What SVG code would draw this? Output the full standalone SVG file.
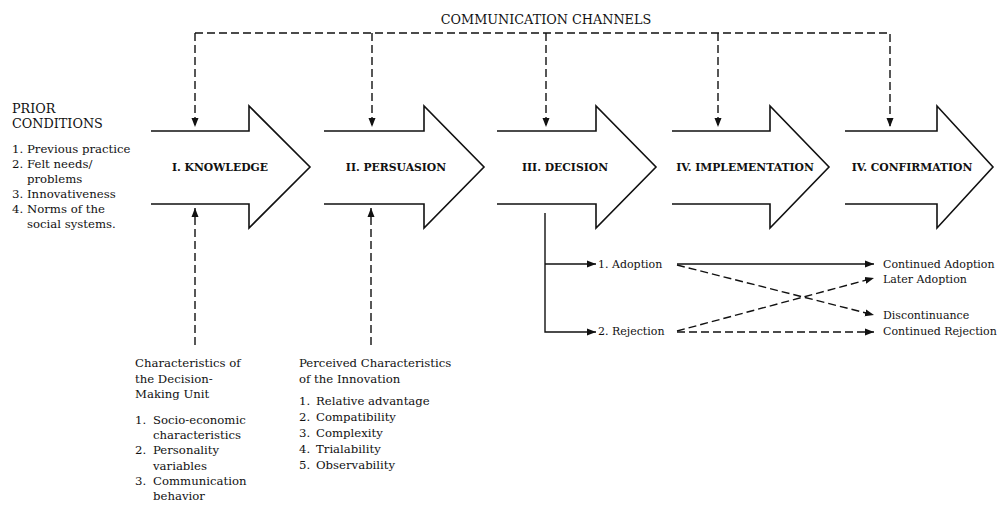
<svg xmlns="http://www.w3.org/2000/svg" width="997" height="505" viewBox="0 0 997 505">
<style>
  text { font-family: "DejaVu Serif", "Liberation Serif", serif; fill: #111; }
  .h { font-size: 12.8px; }
  .b { font-size: 11.7px; }
  .o { font-size: 11px; }
  .lbl { font-size: 10.8px; font-weight: bold; text-anchor: middle; }
  .stage { fill: #fff; stroke: #111; stroke-width: 1.6; stroke-linejoin: miter; }
  .dash { fill: none; stroke: #111; stroke-width: 1.4; stroke-dasharray: 8 4; }
  .solid { fill: none; stroke: #111; stroke-width: 1.4; }
</style>
<defs>
  <marker id="ah" markerUnits="userSpaceOnUse" markerWidth="10" markerHeight="8" refX="9" refY="4" orient="auto">
    <path d="M0,0.5 L9,4 L0,7.5 Z" fill="#111"/>
  </marker>
</defs>
<rect width="997" height="505" fill="#fff"/>

<g id="prior-conditions">
  <text class="h" x="12" y="113">PRIOR</text>
  <text class="h" x="12" y="128">CONDITIONS</text>
  <text class="b" x="12" y="153">1.</text><text class="b" x="27" y="153">Previous practice</text>
  <text class="b" x="12" y="168">2.</text><text class="b" x="27" y="168">Felt needs/</text>
  <text class="b" x="27" y="183">problems</text>
  <text class="b" x="12" y="198">3.</text><text class="b" x="27" y="198">Innovativeness</text>
  <text class="b" x="12" y="213">4.</text><text class="b" x="27" y="213">Norms of the</text>
  <text class="b" x="27" y="228">social systems.</text>
</g>

<g id="communication-channels">
  <text class="h" x="546" y="24" text-anchor="middle">COMMUNICATION CHANNELS</text>
</g>

<g id="knowledge">
  <path class="stage" d="M151,131 L249,131 L249,106 L310,167 L249,228 L249,204 L151,204"/>
  <text class="lbl" x="220" y="171">I. KNOWLEDGE</text>
</g>
<g id="persuasion">
  <path class="stage" d="M324,131 L424,131 L424,106 L484,167 L424,228 L424,204 L324,204"/>
  <text class="lbl" x="396" y="171">II. PERSUASION</text>
</g>
<g id="decision">
  <path class="stage" d="M497,131 L596,131 L596,106 L656,167 L596,228 L596,204 L497,204"/>
  <text class="lbl" x="565" y="171">III. DECISION</text>
</g>
<g id="implementation">
  <path class="stage" d="M672,131 L770,131 L770,106 L829,167 L770,228 L770,204 L672,204"/>
  <text class="lbl" x="745" y="171">IV. IMPLEMENTATION</text>
</g>
<g id="confirmation">
  <path class="stage" d="M845,131 L937,131 L937,106 L993,167 L937,228 L937,204 L845,204"/>
  <text class="lbl" x="912" y="171">IV. CONFIRMATION</text>
</g>

<g id="decision-unit">
  <text class="b" x="135" y="367">Characteristics of</text>
  <text class="b" x="135" y="383">the Decision-</text>
  <text class="b" x="135" y="398">Making Unit</text>
  <text class="b" x="135" y="424">1.</text><text class="b" x="153" y="424">Socio-economic</text>
  <text class="b" x="153" y="439">characteristics</text>
  <text class="b" x="135" y="454">2.</text><text class="b" x="153" y="454">Personality</text>
  <text class="b" x="153" y="470">variables</text>
  <text class="b" x="135" y="485">3.</text><text class="b" x="153" y="485">Communication</text>
  <text class="b" x="153" y="500">behavior</text>
</g>

<g id="innovation-characteristics">
  <text class="b" x="299" y="367">Perceived Characteristics</text>
  <text class="b" x="299" y="383">of the Innovation</text>
  <text class="b" x="299" y="405">1.</text><text class="b" x="316" y="405">Relative advantage</text>
  <text class="b" x="299" y="421">2.</text><text class="b" x="316" y="421">Compatibility</text>
  <text class="b" x="299" y="437">3.</text><text class="b" x="316" y="437">Complexity</text>
  <text class="b" x="299" y="453">4.</text><text class="b" x="316" y="453">Trialability</text>
  <text class="b" x="299" y="469">5.</text><text class="b" x="316" y="469">Observability</text>
</g>

<g id="adoption"><text class="o" x="598" y="268">1.  Adoption</text></g>
<g id="rejection"><text class="o" x="598" y="335">2.  Rejection</text></g>
<g id="continued-adoption"><text class="o" x="883" y="268">Continued Adoption</text></g>
<g id="later-adoption"><text class="o" x="883" y="283">Later Adoption</text></g>
<g id="discontinuance"><text class="o" x="883" y="319">Discontinuance</text></g>
<g id="continued-rejection"><text class="o" x="883" y="335">Continued Rejection</text></g>

<g id="connectors">
  <!-- communication channels -->
  <path class="dash" d="M195,33 L890,33 L890,127" marker-end="url(#ah)"/>
  <path class="dash" d="M195,33 L195,127" marker-end="url(#ah)"/>
  <path class="dash" d="M372,33 L372,127" marker-end="url(#ah)"/>
  <path class="dash" d="M546,33 L546,127" marker-end="url(#ah)"/>
  <path class="dash" d="M718,33 L718,127" marker-end="url(#ah)"/>
  <!-- bottom inputs -->
  <path class="dash" d="M195,345 L195,208" marker-end="url(#ah)"/>
  <path class="dash" d="M371,345 L371,208" marker-end="url(#ah)"/>
  <!-- decision branches -->
  <path class="solid" d="M545,213 L545,332 L596,332" marker-end="url(#ah)"/>
  <path class="solid" d="M545,264 L596,264" marker-end="url(#ah)"/>
  <path class="solid" d="M677,264 L874,264" marker-end="url(#ah)"/>
  <path class="dash" d="M677,265 L874,315" marker-end="url(#ah)"/>
  <path class="dash" d="M677,331 L874,278" marker-end="url(#ah)"/>
  <path class="dash" d="M677,332 L874,332" marker-end="url(#ah)"/>
</g>
</svg>
